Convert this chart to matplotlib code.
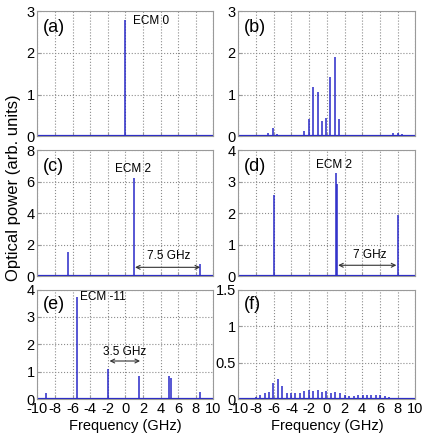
import matplotlib
matplotlib.use("Agg")
import matplotlib.pyplot as plt

plt.rcParams['font.family'] = ['Liberation Sans', 'DejaVu Sans']

# Spectral lines (frequency in GHz, power in arb. units)
freq_a = [0.0]
power_a = [2.78]

freq_b = [-6.6, -6.1, -5.6, -3.05, -2.55, -2.05, -1.6, -1.05, -0.55, -0.1, 0.4, 0.9, 1.4, 7.5, 8.0, 8.5]
power_b = [0.08, 0.2, 0.06, 0.02, 0.14, 0.42, 1.17, 1.07, 0.36, 0.43, 1.42, 1.89, 0.42, 0.08, 0.09, 0.06]

freq_c = [-6.5, 1.0, 8.5]
power_c = [1.52, 6.24, 0.76]

freq_d = [-6.0, 1.0, 1.1, 8.0]
power_d = [2.57, 3.28, 2.91, 1.94]

freq_e = [-9.0, -5.5, -2.0, 1.5, 5.0, 5.15, 8.5]
power_e = [0.22, 3.73, 1.1, 0.83, 0.85, 0.77, 0.26]

freq_f = [-9.5, -9.05, -8.55, -8.05, -7.55, -7.05, -6.55, -6.05, -5.55, -5.05, -4.55,
          -4.05, -3.55, -3.05, -2.55, -2.05, -1.55, -1.05, -0.55, -0.05, 0.45, 0.95,
          1.5, 2.05, 2.55, 3.05, 3.55, 4.05, 4.55, 5.05, 5.55, 6.05, 6.55, 7.05, 7.55,
          8.05, 8.55, 9.05, 9.5]
power_f = [0.01, 0.02, 0.02, 0.03, 0.055, 0.08, 0.1, 0.22, 0.28, 0.18, 0.09,
           0.08, 0.09, 0.09, 0.11, 0.12, 0.11, 0.12, 0.1, 0.11, 0.08, 0.1,
           0.08, 0.05, 0.04, 0.04, 0.05, 0.055, 0.055, 0.06, 0.06, 0.06, 0.04, 0.03, 0.02,
           0.02, 0.015, 0.015, 0.01]

xticks = [-10, -8, -6, -4, -2, 0, 2, 4, 6, 8, 10]

panels = [
    # label, freqs, powers, ymax, yticks, ytick labels, axes rect
    ("(a)", freq_a, power_a, 3, [0, 1, 2, 3], ["0", "1", "2", "3"], [0.088, 0.690, 0.414, 0.285]),
    ("(b)", freq_b, power_b, 3, [0, 1, 2, 3], ["0", "1", "2", "3"], [0.561, 0.690, 0.416, 0.285]),
    ("(c)", freq_c, power_c, 8, [0, 2, 4, 6, 8], ["0", "2", "4", "6", "8"], [0.088, 0.372, 0.414, 0.287]),
    ("(d)", freq_d, power_d, 4, [0, 1, 2, 3, 4], ["0", "1", "2", "3", "4"], [0.561, 0.372, 0.416, 0.287]),
    ("(e)", freq_e, power_e, 4, [0, 1, 2, 3, 4], ["0", "1", "2", "3", "4"], [0.088, 0.093, 0.414, 0.249]),
    ("(f)", freq_f, power_f, 1.5, [0, 0.5, 1, 1.5], ["0", "0.5", "1", "1.5"], [0.561, 0.093, 0.416, 0.249]),
]

blue = '#2828c8'
fig = plt.figure(figsize=(4.25, 4.4), dpi=100)
axes = {}
for label, fr, pw, ymax, yt, ytl, rect in panels:
    ax = fig.add_axes(rect)
    ax.vlines(fr, 0, pw, color=blue, lw=1.1)
    ax.axhline(0, color=blue, lw=1.6)
    ax.set_xlim(-10, 10)
    ax.set_ylim(0, ymax)
    ax.set_xticks(xticks)
    ax.set_yticks(yt)
    ax.set_yticklabels(ytl)
    ax.grid(True, color='#8c8c8c', linestyle=':', linewidth=0.8)
    ax.set_axisbelow(True)
    for s in ax.spines.values():
        s.set_color('#9a9a9a')
        s.set_linewidth(0.8)
    ax.tick_params(direction='in', length=3, color='#9a9a9a', labelsize=10.5, pad=2)
    if label in ("(e)", "(f)"):
        ax.set_xticklabels([str(t) for t in xticks])
        ax.set_xlabel("Frequency (GHz)", fontsize=10.5, labelpad=2)
    else:
        ax.set_xticklabels([])
    ax.text(0.03, 0.94, label, transform=ax.transAxes, fontsize=13, ha='left', va='top')
    axes[label] = ax

# annotations
axes["(a)"].text(0.9, 2.76, "ECM 0", fontsize=8.5, va='center', ha='left')
axes["(c)"].text(-1.17, 6.78, "ECM 2", fontsize=8.5, va='center', ha='left')
axes["(d)"].text(-1.24, 3.52, "ECM 2", fontsize=8.5, va='center', ha='left')
axes["(e)"].text(-5.14, 3.71, "ECM -11", fontsize=8.5, va='center', ha='left')

arrow = dict(arrowstyle='<->', color='#333333', lw=0.8, shrinkA=0, shrinkB=0,
             mutation_scale=7)
axes["(c)"].annotate("", xy=(1.1, 0.57), xytext=(8.5, 0.57), arrowprops=arrow)
axes["(c)"].text(4.97, 1.26, "7.5 GHz", fontsize=8.5, ha='center', va='center')
axes["(d)"].annotate("", xy=(1.28, 0.35), xytext=(7.87, 0.35), arrowprops=arrow)
axes["(d)"].text(4.86, 0.67, "7 GHz", fontsize=8.5, ha='center', va='center')
axes["(e)"].annotate("", xy=(-1.8, 1.39), xytext=(1.67, 1.39), arrowprops=arrow)
axes["(e)"].text(-0.1, 1.73, "3.5 GHz", fontsize=8.5, ha='center', va='center')

fig.text(0.032, 1 - 188 / 440, "Optical power (arb. units)", rotation=90,
         ha='center', va='center', fontsize=12)

fig.savefig("out.png", dpi=100)
